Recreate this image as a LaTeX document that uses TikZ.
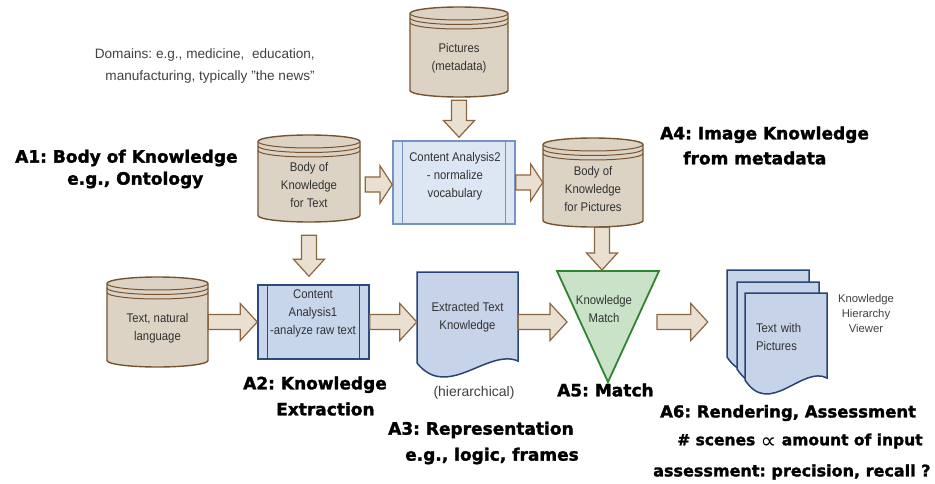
\documentclass[tikz,border=0pt]{standalone}
\usepackage{fontspec}
\setmainfont{Liberation Sans}
\newfontfamily\narrowfont[FakeStretch=0.9]{Liberation Sans}
\newfontfamily\heavyfont[BoldFeatures={FakeBold=1.6}]{DejaVu Sans}
\newfontface\propfont{DejaVu Sans}
\usetikzlibrary{calc}
\frenchspacing

\definecolor{dbfill}{RGB}{221,211,196}
\definecolor{dbline}{RGB}{118,84,50}
\definecolor{arrowfill}{RGB}{234,224,209}
\definecolor{arrowline}{RGB}{140,102,64}
\definecolor{procfill}{RGB}{200,214,236}
\definecolor{procline}{RGB}{44,74,124}
\definecolor{proclight}{RGB}{221,230,243}
\definecolor{proclightline}{RGB}{118,148,192}
\definecolor{docfill}{RGB}{198,211,233}
\definecolor{docline}{RGB}{40,68,118}
\definecolor{matchfill}{RGB}{202,226,199}
\definecolor{matchline}{RGB}{48,132,48}
\definecolor{ink}{RGB}{50,50,50}
\definecolor{notegray}{RGB}{66,66,66}

\tikzset{
  boxtext/.style={font=\narrowfont\fontsize{12.6}{18}\selectfont, text=ink, align=center, inner sep=0pt},
  plaintext/.style={text=notegray, inner sep=0pt},
  heading/.style={font=\heavyfont\bfseries\fontsize{#1}{25}\selectfont, inner sep=0pt, anchor=west, align=left},
  heading/.default=17,
  dbshape/.style={draw=dbline, fill=dbfill, line width=1.4pt},
  dbring/.style={draw=dbline, line width=1pt},
  fatarrow/.style={draw=arrowline, fill=arrowfill, line width=1.2pt, line join=miter},
  procA/.style={draw=procline, fill=procfill, line width=1.5pt, minimum width=111pt, minimum height=74pt},
  procB/.style={draw=proclightline, fill=proclight, line width=1.5pt, minimum width=122pt, minimum height=83pt},
  docbody/.style={draw=docline, fill=docfill, line width=1.5pt, line join=miter},
  matchbody/.style={draw=matchline, fill=matchfill, line width=1.8pt, line join=miter}
}

% store drum: name, left, top, width, height, text
\newcommand{\datastore}[6]{%
  \pgfmathsetmacro{\dsL}{#2}
  \pgfmathsetmacro{\dsR}{#2+#4}
  \pgfmathsetmacro{\dsT}{#3}
  \pgfmathsetmacro{\dsB}{#3+#5}
  \pgfmathsetmacro{\dsr}{#4/2}
  \draw[dbshape] (\dsL,\dsT+6.5) -- (\dsL,\dsB-6.5)
    arc[start angle=180, end angle=360, x radius=\dsr pt, y radius=6.5pt]
    -- (\dsR,\dsT+6.5)
    arc[start angle=0, end angle=180, x radius=\dsr pt, y radius=6.5pt] -- cycle;
  \foreach \d in {0,4.5,9}
    \draw[dbring] (\dsL,\dsT+6.5+\d) arc[start angle=180, end angle=360, x radius=\dsr pt, y radius=6.5pt];
  \node[boxtext, minimum width=#4pt, minimum height=#5pt-12pt] (#1) at (\dsL+\dsr,\dsT+6+#5/2) {#6};
}

% page with a wavy foot: left, top, width, side height
\newcommand{\docshape}[4]{%
  \draw[docbody] (#1,#2) -- ({#1+#3},#2) -- ({#1+#3},{#2+#4-2})
    .. controls ({#1+0.7*#3},{#2+#4-15}) and ({#1+0.3*#3},{#2+#4+38}) .. (#1,{#2+#4}) -- cycle;
}

% block arrows, start point -> tip
\newcommand{\flowright}[2]{%
  \draw[fatarrow] let \p1=(#1), \p2=(#2), \n1={min(17pt,0.45*(\x2-\x1))} in
    (\x1,\y1+7.5pt) -- (\x2-\n1,\y1+7.5pt) -- (\x2-\n1,\y1+18.5pt) -- (\x2,\y1)
    -- (\x2-\n1,\y1-18.5pt) -- (\x2-\n1,\y1-7.5pt) -- (\x1,\y1-7.5pt) -- cycle;
}
\newcommand{\flowdown}[2]{%
  \draw[fatarrow] let \p1=(#1), \p2=(#2), \n1={min(17pt,0.45*(\y1-\y2))} in
    (\x1-7.5pt,\y1) -- (\x1-7.5pt,\y2+\n1) -- (\x1-15.5pt,\y2+\n1) -- (\x1,\y2)
    -- (\x1+15.5pt,\y2+\n1) -- (\x1+7.5pt,\y2+\n1) -- (\x1+7.5pt,\y1) -- cycle;
}

\begin{document}
\begin{tikzpicture}[x=1pt,y=-1pt]

\fill[white, use as bounding box] (0,0) rectangle (935,484);

% -------------------------------------------------
% Domains
% -------------------------------------------------
\node[plaintext, align=right, anchor=east, font=\fontsize{13.6}{22}\selectfont] (domains) at (315,66)
  {Domains: e.g., medicine,\ \ education,\\manufacturing, typically "the news"};

% -------------------------------------------------
% Stores
% -------------------------------------------------
\datastore{pictures}{410}{7}{98}{90}{Pictures\\(metadata)}
\datastore{bokt}{258}{135}{102}{87}{Body of\\Knowledge\\for Text}
\datastore{bokp}{543}{138}{100}{89}{Body of\\Knowledge\\for Pictures}
\datastore{textnl}{107}{277}{101}{90}{Text, natural\\language}

% -------------------------------------------------
% Content analysis boxes
% -------------------------------------------------
\node[procA] (ca1) at (313.5,322) {};
\node[procB] (ca2) at (454,182.5) {};
\foreach \n/\col in {ca1/procline, ca2/proclightline} {
  \draw[draw=\col, line width=1.3pt] ([xshift=10.5pt]\n.north west) -- ([xshift=10.5pt]\n.south west);
  \draw[draw=\col, line width=1.3pt] ([xshift=-10.5pt]\n.north east) -- ([xshift=-10.5pt]\n.south east);
}
\node[boxtext] (ca1label) at (313,313) {Content\\Analysis1\\-analyze raw text};
\node[boxtext] (ca2label) at (455,176) {Content Analysis2\\- normalize\\vocabulary};

% -------------------------------------------------
% Extracted knowledge and output pages
% -------------------------------------------------
\docshape{417}{272}{101}{91}
\node[boxtext, minimum width=101pt, minimum height=91pt] (ext) at (467.5,317.5) {Extracted Text\\Knowledge};
\node[plaintext, font=\fontsize{14}{17}\selectfont] (hier) at (474,393) {(hierarchical)};

\foreach \dx/\dy in {0/0, 10/12, 18/23} {\docshape{727+\dx}{270+\dy}{82}{87}}
\node[boxtext, align=left, text width=60pt, minimum width=82pt, minimum height=87pt] (textpics) at (786,336.5) {Text with\\Pictures};
\node[plaintext, align=center, font=\fontsize{11.3}{15}\selectfont] (viewer) at (866,313) {Knowledge\\Hierarchy\\Viewer};

% -------------------------------------------------
% Match
% -------------------------------------------------
\draw[matchbody] (557,271) -- (659,271) -- (608,382) -- cycle;
\node[boxtext] (match) at (604,309) {Knowledge\\Match};
\coordinate (matchin) at (567,322);
\coordinate (matchout) at (657,322);
\coordinate (matchtop) at (602,270);

% -------------------------------------------------
% Flow
% -------------------------------------------------
\flowdown{[yshift=-3pt]pictures.south}{[yshift=3pt]ca2.north}
\flowright{[xshift=5pt]bokt.east}{ca2.west}
\flowright{ca2.east}{bokp.west}
\flowdown{[yshift=-13pt]bokt.south}{[yshift=8pt]ca1.north}
\flowdown{[xshift=9pt]bokp.south}{matchtop}
\flowright{textnl.east |- ca1.west}{ca1.west}
\flowright{ca1.east}{ext.west}
\flowright{ext.east |- ca1.east}{matchin}
\flowright{matchout}{[xshift=-37pt]textpics.west}

% -------------------------------------------------
% Labels
% -------------------------------------------------
\node[heading] (a1) at (15,169) {A1: Body of Knowledge\\[-3pt]\hspace*{52pt}e.g., Ontology};
\node[heading] (a2) at (243,396) {A2: Knowledge\\[1pt]\hspace*{33pt}Extraction};
\node[heading] (a3) at (388,443) {A3: Representation\\[1pt]\hspace*{17pt}e.g., logic, frames};
\node[heading] (a4) at (660,145.5) {A4: Image Knowledge\\\hspace*{23pt}from metadata};
\node[heading] (a5) at (557,390) {A5: Match};
\node[heading=16.5] (a6) at (660,413) {A6: Rendering, Assessment};
\node[heading=15.5] (a6scenes) at (677,441) {\# scenes \raisebox{-3pt}{\propfont\fontsize{22}{22}\selectfont ∝} amount of input};
\node[heading=16] (a6recall) at (653,472) {assessment: precision, recall ?};

\end{tikzpicture}
\end{document}
